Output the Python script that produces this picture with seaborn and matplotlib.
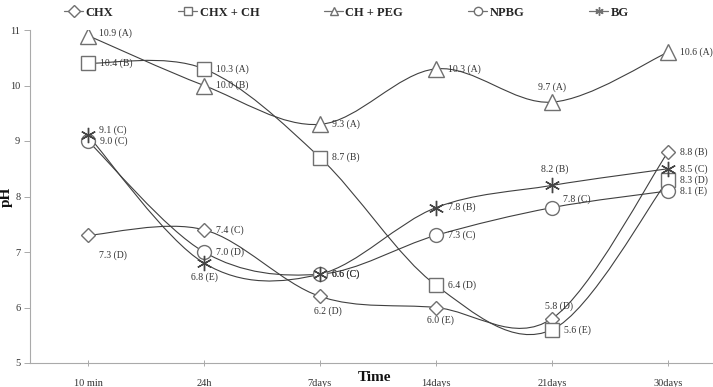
import numpy as np
import pandas as pd
import matplotlib
matplotlib.use("Agg")
import matplotlib.pyplot as plt
from matplotlib.path import Path
from matplotlib.patches import PathPatch
from matplotlib.lines import Line2D
import seaborn as sns

# Data
times = ["10 min", "24h", "7days", "14days", "21days", "30days"]
groups = ["CHX", "CHX + CH", "CH + PEG", "NPBG", "BG"]

chx = [7.3, 7.4, 6.2, 6.0, 5.8, 8.8]
chx_ch = [10.4, 10.3, 8.7, 6.4, 5.6, 8.3]
ch_peg = [10.9, 10.0, 9.3, 10.3, 9.7, 10.6]
npbg = [9.0, 7.0, 6.6, 7.3, 7.8, 8.1]
bg = [9.1, 6.8, 6.6, 7.8, 8.2, 8.5]

chx_letters = ["D", "C", "D", "E", "D", "B"]
chx_ch_letters = ["B", "A", "B", "D", "E", "D"]
ch_peg_letters = ["A", "B", "A", "A", "A", "A"]
npbg_letters = ["C", "D", "C", "C", "C", "E"]
bg_letters = ["C", "E", "C", "B", "B", "C"]

values = [chx, chx_ch, ch_peg, npbg, bg]
letters = [chx_letters, chx_ch_letters, ch_peg_letters, npbg_letters, bg_letters]

# styling
markers = {"CHX": "D", "CHX + CH": "s", "CH + PEG": "^", "NPBG": "o", "BG": (6, 2, 0)}
msizes = {"CHX": 7, "CHX + CH": 10, "CH + PEG": 11, "NPBG": 10, "BG": 11}
R = (9, 0, "left", "center")
label_pos = {
    "CHX": [(8, -14, "left", "center"), R, (6, -11, "center", "center"), (3, -9, "center", "center"),
            (5, 9, "center", "center"), R],
    "CHX + CH": [R, R, R, R, R, R],
    "CH + PEG": [(8, 2, "left", "center"), R, R, R, (0, 11, "center", "center"), R],
    "NPBG": [R, R, R, R, (8, 6, "left", "center"), R],
    "BG": [(8, 4, "left", "center"), (0, -10, "center", "center"), R, R, (2, 12, "center", "center"), R],
}

line_col = "#404040"
edge_col = "#707070"
txt_col = "#333333"
serif = ["Liberation Serif", "DejaVu Serif"]

sns.set_theme(style="white")
plt.rcParams["font.family"] = serif

df = pd.DataFrame({
    "time": times * len(groups),
    "group": np.repeat(groups, len(times)),
    "ph": np.concatenate(values),
})

fig = plt.figure(figsize=(7.13, 3.87), dpi=100)
ax = fig.add_axes([30 / 713, 1 - 363 / 387, 1 - 30 / 713, (363 - 30) / 387])


def smooth_path(ys):
    # Excel-style smoothed line: cubic bezier through the points
    pts = np.column_stack([np.arange(len(ys)), ys]).astype(float)
    ext = np.vstack([pts[0], pts, pts[-1]])
    verts = [pts[0]]
    codes = [Path.MOVETO]
    for i in range(len(pts) - 1):
        p0, p1, p2, p3 = ext[i], ext[i + 1], ext[i + 2], ext[i + 3]
        c1 = p1 + (p2 - p0) / 6
        c2 = p2 - (p3 - p1) / 6
        verts += [c1, c2, p2]
        codes += [Path.CURVE4] * 3
    return Path(verts, codes)


for g, ys in zip(groups, values):
    ax.add_patch(PathPatch(smooth_path(ys), fill=False, edgecolor=line_col, lw=0.8, zorder=2))

for g in groups:
    sub = df[df["group"] == g]
    sns.lineplot(data=sub, x="time", y="ph", ax=ax, linestyle="", marker=markers[g],
                 markersize=msizes[g], markerfacecolor="white",
                 markeredgecolor=("#444444" if g == "BG" else edge_col),
                 markeredgewidth=1.0, color=line_col, zorder=3, sort=False)

# value labels
for g, ys, ls in zip(groups, values, letters):
    for i, (v, l) in enumerate(zip(ys, ls)):
        dx, dy, ha, va = label_pos[g][i]
        ax.annotate(f"{v:.1f} ({l})", (i, v), xytext=(dx, dy), textcoords="offset points",
                    ha=ha, va=va, fontsize=7, color=txt_col, family=serif, zorder=4)

ax.set_xlim(-0.5, 5 + 45 / 116)
ax.set_ylim(5, 11)
ax.set_yticks(range(5, 12))
ax.set_xticks(range(len(times)))
ax.set_xticklabels(times)
for s in ["top", "right"]:
    ax.spines[s].set_visible(False)
for s in ["left", "bottom"]:
    ax.spines[s].set_color("#aaaaaa")
    ax.spines[s].set_linewidth(0.8)
ax.tick_params(axis="y", left=True, length=4, width=0.7, color="#aaaaaa", labelsize=7.5,
               labelcolor=txt_col, pad=3)
ax.tick_params(axis="x", bottom=True, direction="inout", length=5, width=0.7, color="#aaaaaa",
               labelsize=7.5, labelcolor=txt_col, pad=9)

ax.set_xlabel("Time", fontsize=11, fontweight="bold", color="#111111")
ax.xaxis.set_label_coords(0.505, -0.025)
ax.set_ylabel("pH", fontsize=11, fontweight="bold", color="#111111")
ax.yaxis.set_label_coords(-0.025, 0.5)

handles = [Line2D([], [], color=edge_col, lw=0.9, marker=markers[g], markersize=6,
                  markerfacecolor="white", markeredgecolor=edge_col) for g in groups]
fig.legend(handles, groups, loc="center", bbox_to_anchor=(0.486, 0.967), ncol=5, frameon=False,
           handlelength=1.5, handletextpad=0.2, columnspacing=5.2,
           prop={"family": serif, "weight": "bold", "size": 9})

fig.savefig("out.png", dpi=100)
